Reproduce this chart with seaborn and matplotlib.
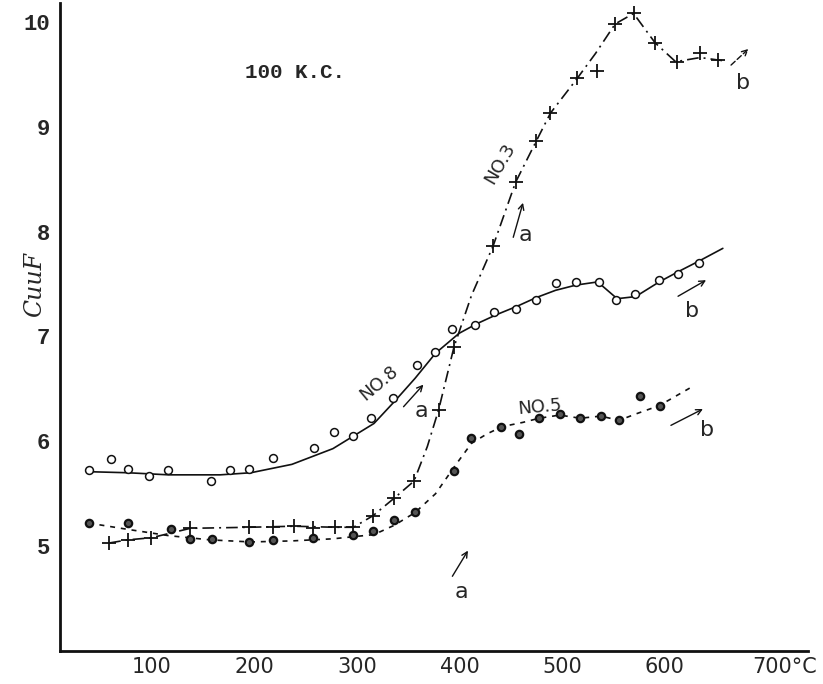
import numpy as np
import pandas as pd
import matplotlib
matplotlib.use("Agg")
import matplotlib.pyplot as plt
import matplotlib.transforms as mtransforms
import seaborn as sns

# ---- data ----
no8_x = [22, 44, 60, 81, 99, 141, 160, 178, 202, 242, 261, 280, 297, 319, 342, 359, 376, 398,
         417, 438, 458, 477, 497, 519, 536, 554, 578, 596, 617]
no8_y = [5.73, 5.83, 5.74, 5.67, 5.73, 5.62, 5.73, 5.74, 5.84, 5.94, 6.09, 6.05, 6.22, 6.41, 6.73, 6.85, 7.07, 7.11,
         7.23, 7.26, 7.35, 7.51, 7.52, 7.52, 7.35, 7.40, 7.54, 7.60, 7.70]
no8_curve_x = [22, 60, 100, 150, 180, 220, 260, 300, 320, 340, 360, 383, 400, 420, 440, 458, 477, 497, 518,
               537, 555, 578, 597, 617, 640]
no8_curve_y = [5.71, 5.70, 5.68, 5.68, 5.70, 5.78, 5.93, 6.17, 6.38, 6.60, 6.84, 7.03, 7.12, 7.21, 7.29, 7.37,
               7.44, 7.49, 7.52, 7.36, 7.38, 7.52, 7.62, 7.72, 7.84]

no3_x = [42, 60, 83, 121, 178, 202, 222, 241, 262, 280, 299, 320, 339, 363, 378, 416, 438, 458, 472,
         498, 517, 535, 553, 574, 595, 618, 635]
no3_y = [5.03, 5.06, 5.08, 5.17, 5.18, 5.18, 5.19, 5.17, 5.18, 5.18, 5.29, 5.46, 5.62, 6.30, 6.90, 7.86, 8.47, 8.86, 9.13,
         9.46, 9.53, 9.98, 10.08, 9.80, 9.62, 9.70, 9.64]
no3_curve_x = [42, 60, 83, 121, 178, 222, 262, 280, 299, 320, 339, 352, 363, 378, 395, 416, 438, 458, 472,
               498, 516, 535, 553, 574, 594, 618, 640]
no3_curve_y = [5.03, 5.06, 5.08, 5.17, 5.18, 5.19, 5.18, 5.18, 5.29, 5.46, 5.62, 5.95, 6.30, 6.90, 7.39, 7.86, 8.47,
               8.86, 9.13, 9.46, 9.70, 9.98, 10.08, 9.80, 9.62, 9.66, 9.63]

no5_x = [22, 60, 102, 121, 142, 178, 202, 241, 280, 299, 320, 340, 378, 395, 424, 441, 461, 481, 501,
         521, 539, 559, 579]
no5_y = [5.22, 5.22, 5.16, 5.07, 5.07, 5.04, 5.06, 5.08, 5.11, 5.14, 5.25, 5.33, 5.72, 6.03, 6.14, 6.07, 6.22, 6.26, 6.22,
         6.24, 6.20, 6.43, 6.34]
no5_curve_x = [22, 60, 100, 140, 180, 220, 260, 300, 320, 340, 360, 380, 395, 410, 425, 445, 461, 481, 501,
               521, 539, 555, 578, 610]
no5_curve_y = [5.22, 5.16, 5.10, 5.06, 5.04, 5.05, 5.07, 5.11, 5.20, 5.32, 5.50, 5.78, 5.98, 6.07, 6.14, 6.18,
               6.22, 6.25, 6.22, 6.24, 6.20, 6.26, 6.34, 6.52]

x_ticks = [100, 200, 300, 400, 500, 600, 700]
x_tick_labels = ["100", "200", "300", "400", "500", "600", "700°C"]
y_ticks = [5, 6, 7, 8, 9, 10]
y_tick_labels = ["5", "6", "7", "8", "9", "10"]

# ---- figure ----
sns.set_style("white")
plt.rcParams["font.family"] = ["DejaVu Sans"]

fig = plt.figure(figsize=(8.23, 6.84), dpi=100)
ax = fig.add_axes([60 / 823, 33 / 684, 748 / 823, 648 / 684])

ink = "#111111"

sns.lineplot(x=no8_curve_x, y=no8_curve_y, ax=ax, color=ink, lw=1.2, sort=False, estimator=None)
sns.lineplot(x=no3_curve_x, y=no3_curve_y, ax=ax, color=ink, lw=1.2, sort=False, estimator=None)
ax.lines[-1].set_dashes([7, 3, 1.2, 3])
sns.lineplot(x=no5_curve_x, y=no5_curve_y, ax=ax, color=ink, lw=1.2, sort=False, estimator=None)
ax.lines[-1].set_dashes([3, 3.5])

sns.scatterplot(x=no8_x, y=no8_y, ax=ax, marker="o", s=32, facecolor="white", edgecolor=ink,
                linewidth=1.1, zorder=5)
sns.scatterplot(x=no3_x, y=no3_y, ax=ax, marker="+", s=90, color=ink, linewidth=1.3, zorder=5)
sns.scatterplot(x=no5_x, y=no5_y, ax=ax, marker="o", s=28, facecolor="#555555", edgecolor=ink,
                linewidth=1.6, zorder=5)

ax.set_xlim(-6, 723)
ax.set_ylim(4.0, 10.18)

ax.set_xticks(x_ticks)
ax.set_xticklabels(x_tick_labels, fontsize=15)
ax.set_yticks(y_ticks)
ax.set_yticklabels(y_tick_labels, fontsize=16, family="Liberation Mono", fontweight="bold")
ax.tick_params(axis="both", direction="in", length=5, width=1.3, color=ink)
ax.tick_params(axis="x", pad=4)
ax.tick_params(axis="y", pad=7)

shift = mtransforms.ScaledTranslation(-0.17, 0, fig.dpi_scale_trans)
for lab in ax.get_xticklabels()[:-1]:
    lab.set_transform(lab.get_transform() + shift)

for side in ["top", "right"]:
    ax.spines[side].set_visible(False)
for side in ["left", "bottom"]:
    ax.spines[side].set_linewidth(2.0)
    ax.spines[side].set_color(ink)

ax.text(-0.034, 0.565, "CuuF", transform=ax.transAxes, rotation=90, fontsize=17,
        fontstyle="italic", family="DejaVu Serif", ha="center", va="center")

ax.text(223, 9.52, "100 K.C.", fontsize=15, family="Liberation Mono", fontweight="bold",
        ha="center", va="center")

ax.text(305, 6.56, "NO.8", rotation=40, fontsize=13, ha="center", va="center")
ax.text(423, 8.65, "NO.3", rotation=60, fontsize=13, ha="center", va="center")
ax.text(462, 6.33, "NO.5", rotation=5, fontsize=13, ha="center", va="center")

aprops = dict(arrowstyle="->", color=ink, lw=1.0)
ax.annotate("", xy=(446, 8.30), xytext=(435, 7.92), arrowprops=aprops)
ax.text(448, 7.97, "a", fontsize=16, ha="center", va="center")
ax.annotate("", xy=(350, 6.56), xytext=(327, 6.31), arrowprops=aprops)
ax.text(346, 6.29, "a", fontsize=16, ha="center", va="center")
ax.annotate("", xy=(393, 4.98), xytext=(375, 4.69), arrowprops=aprops)
ax.text(385, 4.56, "a", fontsize=16, ha="center", va="center")

ax.annotate("", xy=(667, 9.76), xytext=(646, 9.57),
            arrowprops=dict(arrowstyle="->", color=ink, lw=1.0, linestyle=(0, (4, 2))))
ax.text(660, 9.42, "b", fontsize=16, ha="center", va="center")
ax.annotate("", xy=(626, 7.55), xytext=(594, 7.37), arrowprops=aprops)
ax.text(610, 7.24, "b", fontsize=16, ha="center", va="center")
ax.annotate("", xy=(623, 6.32), xytext=(587, 6.14), arrowprops=aprops)
ax.text(625, 6.11, "b", fontsize=16, ha="center", va="center")

fig.savefig("out.png", dpi=100)
